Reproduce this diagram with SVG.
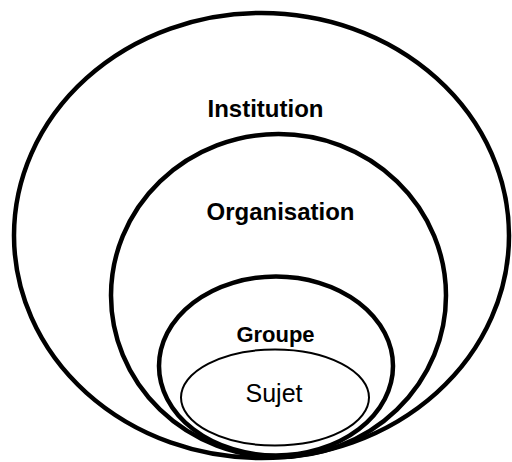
<svg xmlns="http://www.w3.org/2000/svg" width="512" height="462" viewBox="0 0 512 462">
<style>
.ring{fill:none;stroke:#000;stroke-width:4.5}
.thin{fill:none;stroke:#000;stroke-width:2}
.lbl{font-family:"Liberation Sans",Arial,sans-serif;font-weight:bold;fill:#000;text-anchor:middle}
.reg{font-family:"Liberation Sans",Arial,sans-serif;fill:#000;text-anchor:middle}
</style>
<rect width="512" height="462" fill="#fff"/>
<g id="institution">
<ellipse class="ring" cx="261.5" cy="235.5" rx="247.5" ry="222.5"/>
<text class="lbl" x="265.5" y="117" font-size="24">Institution</text>
</g>
<g id="organisation">
<ellipse class="ring" cx="278.5" cy="295.5" rx="167.5" ry="161.5"/>
<text class="lbl" x="280.5" y="220" font-size="24">Organisation</text>
</g>
<g id="groupe">
<ellipse class="ring" cx="276" cy="366" rx="117" ry="89.5"/>
<text class="lbl" x="275.5" y="342" font-size="22">Groupe</text>
</g>
<g id="sujet">
<ellipse class="thin" cx="275" cy="397.5" rx="94" ry="48"/>
<text class="reg" x="274" y="402" font-size="25">Sujet</text>
</g>
<g id="connectors"/>
</svg>
